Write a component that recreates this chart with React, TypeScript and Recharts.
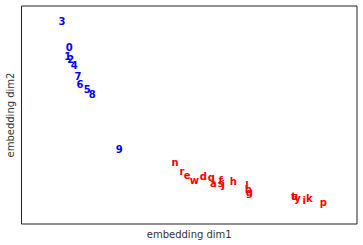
import { ScatterChart, Scatter, XAxis, YAxis, ReferenceArea } from "recharts";

const digitLabels = ["3", "0", "1", "2", "4", "7", "6", "5", "8", "9"];
const digitX = [12.1, 14.2, 13.8, 14.7, 15.7, 16.8, 17.4, 19.6, 21.1, 29.1];
const digitY = [93.1, 80.9, 76.7, 75.5, 72.5, 67.6, 64.2, 61.9, 59.5, 34.4];

const letterLabels = ["n", "r", "e", "w", "d", "q", "a", "s", "f", "j", "h", "l", "b", "g", "t", "u", "y", "i", "k", "p"];
const letterX = [45.8, 47.8, 49.4, 51.5, 54.2, 56.6, 57.2, 59.4, 59.4, 60.1, 63.1, 67.2, 67.6, 67.9, 81.1, 81.4, 82.3, 84.3, 85.8, 90.0];
const letterY = [28.1, 24.0, 22.2, 19.9, 22.0, 21.2, 18.5, 18.7, 19.9, 18.2, 19.4, 17.6, 15.6, 14.4, 12.8, 12.5, 11.5, 10.6, 11.5, 9.8];

const digits = digitLabels.map((label, i) => ({ label, x: digitX[i], y: digitY[i] }));
const letters = letterLabels.map((label, i) => ({ label, x: letterX[i], y: letterY[i] }));

const font = "DejaVu Sans, sans-serif";

function makeShape(color: string) {
  return (props: any) => (
    <text
      x={props.cx}
      y={props.cy}
      textAnchor="middle"
      dominantBaseline="central"
      fill={color}
      fontWeight="bold"
      fontSize={10}
      fontFamily={font}
    >
      {props.payload.label}
    </text>
  );
}

export default function App() {
  return (
    <div style={{ position: "absolute", left: 0, top: 0, background: "#fff" }}>
      <ScatterChart width={363} height={245} margin={{ top: 6, right: 6, bottom: 0, left: 0 }}>
        <XAxis
          type="number"
          dataKey="x"
          domain={[0, 100]}
          allowDataOverflow
          tick={false}
          tickLine={false}
          axisLine={false}
          height={21}
          label={{ value: "embedding dim1", position: "insideBottom", offset: 7, fill: "#333", fontSize: 10, fontFamily: font }}
        />
        <YAxis
          type="number"
          dataKey="y"
          domain={[0, 100]}
          allowDataOverflow
          tick={false}
          tickLine={false}
          axisLine={false}
          width={21.5}
          label={{ value: "embedding dim2", angle: -90, position: "insideLeft", offset: 10, fill: "#333", fontSize: 10, fontFamily: font, style: { textAnchor: "middle" } }}
        />
        <ReferenceArea x1={0} x2={100} y1={0} y2={100} fill="none" stroke="#222" strokeWidth={1} strokeOpacity={1} />
        <Scatter data={digits} shape={makeShape("#0000ff")} isAnimationActive={false} />
        <Scatter data={letters} shape={makeShape("#ff0000")} isAnimationActive={false} />
      </ScatterChart>
    </div>
  );
}
